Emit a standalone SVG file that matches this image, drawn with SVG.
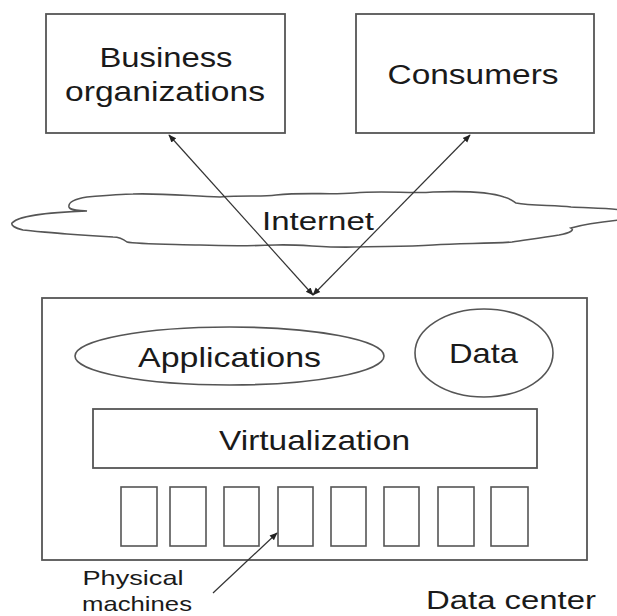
<svg xmlns="http://www.w3.org/2000/svg" width="617" height="616" viewBox="0 0 617 616">
<defs>
<style>
.box{fill:#fff;stroke:#555;stroke-width:1.8}
.shape{fill:#fff;stroke:#555;stroke-width:1.6}
.lbl{font-family:"Liberation Sans",Arial,sans-serif;fill:#1a1a1a;text-anchor:middle}
.conn{stroke:#333;stroke-width:1.2;fill:none}
</style>
<marker id="ah" viewBox="0 0 10 10" refX="9" refY="5" markerWidth="8" markerHeight="8" markerUnits="userSpaceOnUse" orient="auto-start-reverse">
<path d="M0,1 L10,5 L0,9 Z" fill="#222"/>
</marker>
</defs>
<rect width="617" height="616" fill="#fff"/>

<g id="business">
<rect class="box" x="46" y="14" width="239" height="119"/>
<text class="lbl" x="166" y="67" font-size="28" textLength="133" lengthAdjust="spacingAndGlyphs">Business</text>
<text class="lbl" x="165" y="101" font-size="28" textLength="200" lengthAdjust="spacingAndGlyphs">organizations</text>
</g>

<g id="consumers">
<rect class="box" x="356" y="14" width="238" height="119"/>
<text class="lbl" x="473" y="84" font-size="27" textLength="171" lengthAdjust="spacingAndGlyphs">Consumers</text>
</g>

<g id="internet">
<path class="shape" d="M12,223 C20,214 60,212 87,211 C80,210 70,211 69,207 C68,202 75,199 87,197 C110,195 125,194 133,194 C160,193 190,196 220,197 C245,195 260,197 276,195 C305,192 330,195 354,193 C385,190 410,194 433,192 C460,191 490,192 504,197 C512,199 514,202 516,203 C530,206 555,205 571,207 C590,208 610,208 620,210 L620,220 C600,222 585,224 571,228 C575,230 570,233 559,235 C540,238 525,240 512,242 C485,244 460,243 433,245 C405,247 380,246 354,247 C325,248 300,244 276,245 C250,246 225,246 200,245 C160,244 135,244 127,242 C122,238 118,237 113,237 C95,236 80,235 67,234 C45,232 30,231 23,230 C14,228 11,225 12,223 Z"/>
<text class="lbl" x="318" y="230" font-size="26" textLength="112" lengthAdjust="spacingAndGlyphs">Internet</text>
</g>

<g id="datacenter">
<rect class="box" x="42" y="298" width="545" height="262"/>
<text class="lbl" x="511" y="609" font-size="26" textLength="170" lengthAdjust="spacingAndGlyphs">Data center</text>
</g>

<g id="applications">
<ellipse class="shape" cx="229.5" cy="356" rx="154.5" ry="29"/>
<text class="lbl" x="229.5" y="367" font-size="28" textLength="183" lengthAdjust="spacingAndGlyphs">Applications</text>
</g>

<g id="data">
<ellipse class="shape" cx="484" cy="353" rx="69" ry="44"/>
<text class="lbl" x="483.5" y="363" font-size="28" textLength="69" lengthAdjust="spacingAndGlyphs">Data</text>
</g>

<g id="virtualization">
<rect class="box" x="93" y="409" width="444" height="59"/>
<text class="lbl" x="314.5" y="450" font-size="28" textLength="191" lengthAdjust="spacingAndGlyphs">Virtualization</text>
</g>

<g id="machines">
<rect class="shape" x="121" y="487" width="36" height="59"/>
<rect class="shape" x="170" y="487" width="36" height="59"/>
<rect class="shape" x="224" y="487" width="35" height="59"/>
<rect class="shape" x="278" y="487" width="35" height="59"/>
<rect class="shape" x="331" y="487" width="35" height="59"/>
<rect class="shape" x="384" y="487" width="35" height="59"/>
<rect class="shape" x="438" y="487" width="36" height="59"/>
<rect class="shape" x="491" y="487" width="37" height="59"/>
<text class="lbl" x="133" y="585" font-size="21" textLength="101" lengthAdjust="spacingAndGlyphs">Physical</text>
<text class="lbl" x="137" y="611" font-size="21" textLength="110" lengthAdjust="spacingAndGlyphs">machines</text>
</g>

<g id="connectors">
<line class="conn" x1="169" y1="135" x2="313" y2="295" marker-start="url(#ah)" marker-end="url(#ah)"/>
<line class="conn" x1="470" y1="135" x2="313" y2="295" marker-start="url(#ah)" marker-end="url(#ah)"/>
<line class="conn" x1="213" y1="593" x2="277" y2="533" marker-end="url(#ah)"/>
</g>
</svg>
